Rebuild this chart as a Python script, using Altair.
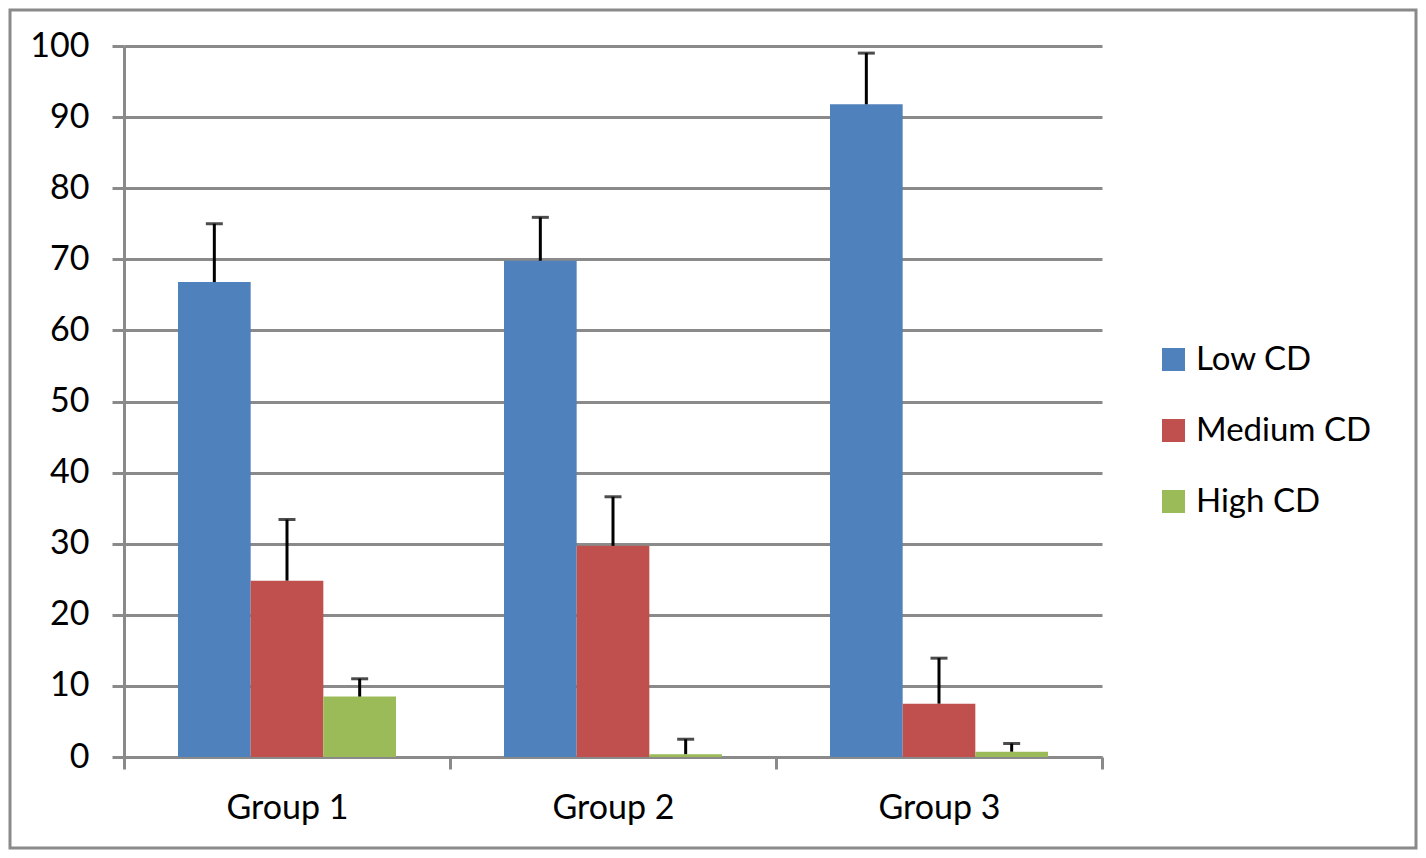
import altair as alt
import pandas as pd

groups = ["Group 1", "Group 2", "Group 3"]
series = ["Low CD", "Medium CD", "High CD"]
low_vals = [66.8, 69.8, 91.8]
low_err = [8.2, 6.1, 7.2]
med_vals = [24.8, 29.7, 7.5]
med_err = [8.6, 6.9, 6.4]
high_vals = [8.5, 0.4, 0.75]
high_err = [2.5, 2.1, 1.15]
colors = ["#4F81BD", "#C0504D", "#9BBB59"]
y_ticks = list(range(0, 101, 10))

rows = []
for s, vals, errs in zip(series, [low_vals, med_vals, high_vals], [low_err, med_err, high_err]):
    for g, v, e in zip(groups, vals, errs):
        rows.append({"group": g, "series": s, "value": v, "err": e, "top": v + e})
df = pd.DataFrame(rows)

FONT = "Lato"
GRAY = "#8A8A8A"

x_enc = alt.X(
    "group:N",
    sort=groups,
    scale=alt.Scale(paddingInner=0, paddingOuter=0),
    axis=alt.Axis(
        title=None, labelAngle=0, tickBand="extent", grid=False,
        domainColor=GRAY, domainWidth=3, tickColor=GRAY, tickWidth=3, tickSize=12,
        labelFontSize=34, labelFont=FONT, labelColor="#000000", labelPadding=22,
    ),
)
xoff_enc = alt.XOffset("series:N", sort=series, scale=alt.Scale(paddingInner=0, paddingOuter=0.743))
y_scale = alt.Scale(domain=[0, 100], nice=False)

base = alt.Chart(df).encode(x=x_enc, xOffset=xoff_enc)

bars = base.mark_bar().encode(
    y=alt.Y(
        "value:Q", scale=y_scale,
        axis=alt.Axis(
            title=None, values=y_ticks, grid=True, gridColor=GRAY, gridWidth=3,
            domainColor=GRAY, domainWidth=3, tickColor=GRAY, tickWidth=3, tickSize=12,
            labelFontSize=34, labelFont=FONT, labelColor="#000000", labelPadding=23,
        ),
    ),
    color=alt.Color(
        "series:N", sort=series,
        scale=alt.Scale(domain=series, range=colors),
        legend=alt.Legend(
            title=None, orient="none", legendX=1033, legendY=297,
            symbolType="square", symbolSize=529, symbolStrokeWidth=0,
            labelFontSize=33, labelFont=FONT, labelColor="#000000", labelLimit=400,
            rowPadding=37, labelOffset=6,
        ),
    ),
)

err_rule = base.mark_rule(color="black", strokeWidth=3).encode(
    y=alt.Y("value:Q", scale=y_scale), y2="top:Q"
)
err_cap = base.mark_tick(color="black", thickness=3, size=17, orient="horizontal").encode(
    y=alt.Y("top:Q", scale=y_scale)
)

frame_df = pd.DataFrame({"k": [0]})
frame = alt.Chart(frame_df).mark_rect(fill="white", fillOpacity=0, stroke=GRAY, strokeWidth=3).encode(
    x=alt.value(-114), x2=alt.value(1292), y=alt.value(-36), y2=alt.value(802)
)

chart = alt.layer(frame, bars, err_rule, err_cap).properties(
    width=978, height=711,
    autosize=alt.AutoSizeParams(type="none"),
    padding={"left": 116, "top": 38, "right": 316, "bottom": 93},
).configure_view(stroke=None)

chart.save("out.html", embed_options={"renderer": "svg", "actions": False})
